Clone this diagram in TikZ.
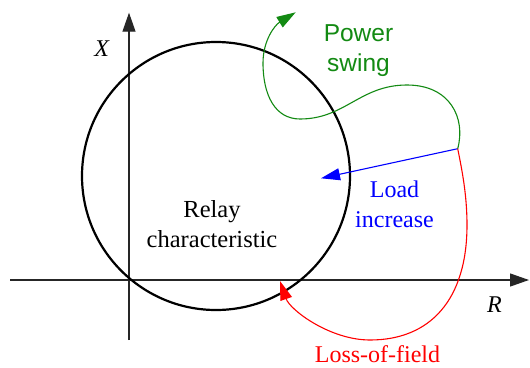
\documentclass[tikz,border=0pt]{standalone}
\usepackage{fontspec}
\setmainfont{Liberation Serif}
\newfontfamily\swingfont{Liberation Sans}
\usetikzlibrary{arrows.meta}
\definecolor{SwingGreen}{HTML}{138A13}
\definecolor{LoadBlue}{HTML}{0000FF}
\definecolor{FieldRed}{HTML}{FF0000}
\definecolor{AxisGray}{HTML}{262626}

\begin{document}
\begin{tikzpicture}[x=1pt,y=-1pt,
  axis/.style={AxisGray,line width=1.2pt,-{Triangle[length=19pt,width=13pt]}},
  locus/.style={line width=1.1pt,-{Triangle[length=19pt,width=12pt]}},
  lbl/.style={inner sep=0pt,align=center,font=\fontsize{24}{30}\selectfont}]
\path[use as bounding box] (0,0) rectangle (530,367);
\fill[white] (0,0) rectangle (530,367);
% axes
\coordinate (rleft) at (10,280);
\coordinate (rright) at (529,280);
\coordinate (xlow) at (129,340);
\coordinate (xtop) at (129,12.7);
\draw[axis] (rleft) -- (rright);
\draw[axis] (xlow) -- (xtop);
\node[lbl,anchor=base,font=\fontsize{24}{30}\itshape] (xlbl) at (101.7,56.7) {X};
\node[lbl,anchor=base,font=\fontsize{24}{30}\itshape] (rlbl) at (494.5,312.7) {R};
% relay circle
\coordinate (mho) at (216,176);
\draw[line width=2.2pt] (mho) circle[radius=134pt];
\node[lbl,anchor=north,font=\fontsize{24.5}{30}\selectfont] (relay) at (212,200.3) {Relay\\characteristic};
% operating point and loci
\coordinate (op) at (457.7,148.7);
\coordinate (loadend) at (321,178.3);
\coordinate (swingend) at (295.7,12.3);
\coordinate (fieldend) at (280,281);
\draw[locus,LoadBlue] (op) -- (loadend);
\draw[locus,SwingGreen] (op) .. controls (466,118) and (450,85) .. (407,85)
  .. controls (360,85) and (345,119) .. (300,119)
  .. controls (275,119) and (263,95) .. (263,63)
  .. controls (263,40) and (275,25) .. (swingend);
\draw[locus,FieldRed] (op) .. controls (462,170) and (467,195) .. (467,225)
  .. controls (467,300) and (430,340) .. (370,340)
  .. controls (330,340) and (290,310) .. (fieldend);
\node[lbl,anchor=north,LoadBlue] (load) at (394.5,180.3) {Load\\increase};
\node[lbl,anchor=north,SwingGreen,font=\swingfont\fontsize{24.5}{30}\selectfont] (swing) at (358.5,24.2) {Power\\swing};
\node[lbl,anchor=base,FieldRed] (field) at (377.5,362.5) {Loss-of-field};
\end{tikzpicture}
\end{document}
